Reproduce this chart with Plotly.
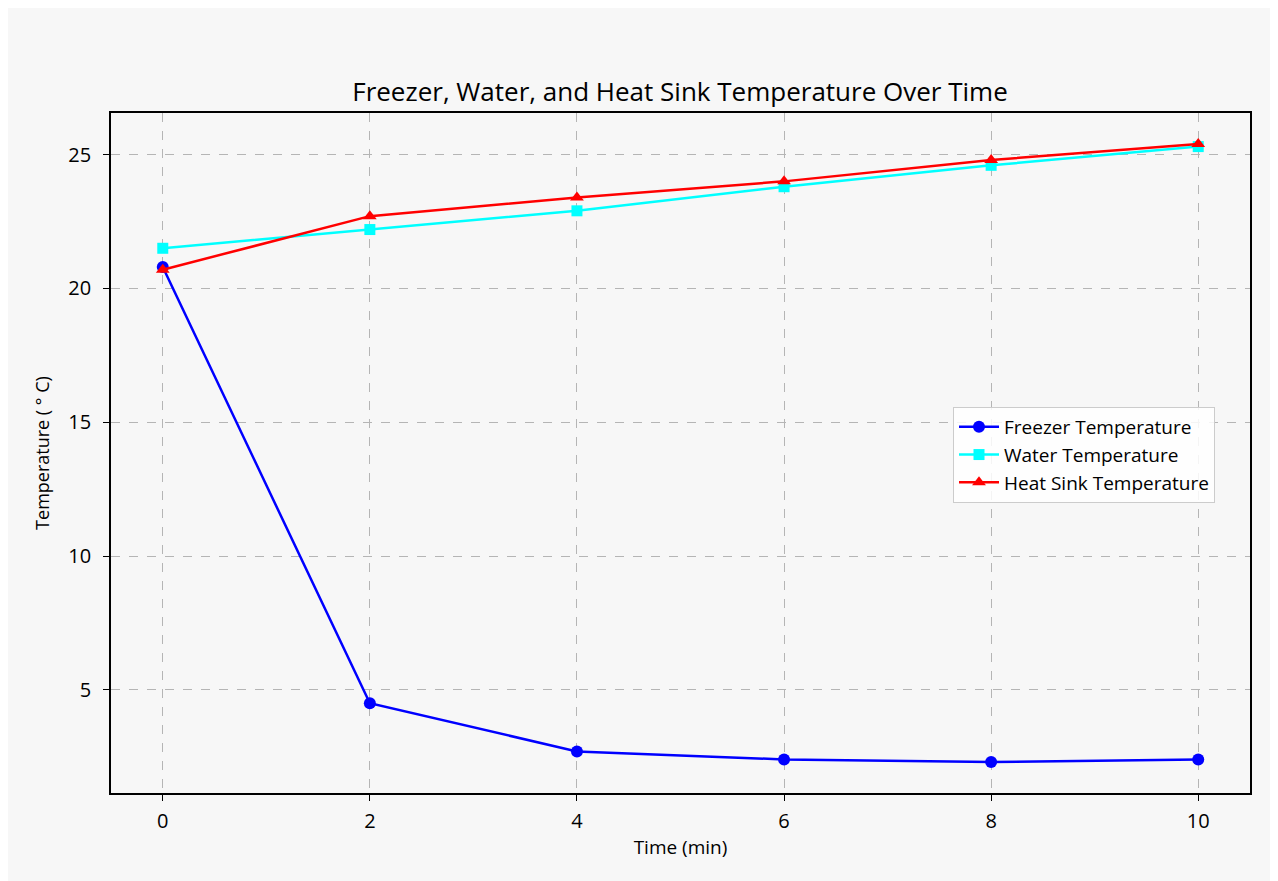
import plotly.graph_objects as go

time_min = [0, 2, 4, 6, 8, 10]
freezer_temp = [20.8, 4.5, 2.7, 2.4, 2.3, 2.4]
water_temp = [21.5, 22.2, 22.9, 23.8, 24.6, 25.3]
heatsink_temp = [20.7, 22.7, 23.4, 24.0, 24.8, 25.4]
x_ticks = [0, 2, 4, 6, 8, 10]
y_ticks = [5, 10, 15, 20, 25]

FONT = "Open Sans"
OFF = 8  # page body margin
W, H = 1265, 873
ML, MR, MT, MB = 103, 23, 105, 88
PW, PH = W - ML - MR, H - MT - MB

fig = go.Figure()
fig.add_trace(go.Scatter(x=time_min, y=freezer_temp, mode="lines+markers",
                         name="Freezer Temperature",
                         line=dict(color="#0000ff", width=2.5),
                         marker=dict(symbol="circle", size=12, color="#0000ff")))
fig.add_trace(go.Scatter(x=time_min, y=water_temp, mode="lines+markers",
                         name="Water Temperature",
                         line=dict(color="#00ffff", width=2.5),
                         marker=dict(symbol="square", size=11, color="#00ffff")))
fig.add_trace(go.Scatter(x=time_min, y=heatsink_temp, mode="lines+markers",
                         name="Heat Sink Temperature",
                         line=dict(color="#ff0000", width=2.5),
                         marker=dict(symbol="triangle-up", size=12, color="#ff0000")))

def px_to_paper_x(px):
    return (px - OFF - ML) / PW

def px_to_paper_y(py):
    return (H - MB - (py - OFF)) / PH

axis_common = dict(showline=True, linecolor="black", linewidth=1.6, mirror=True,
                   ticks="outside", ticklen=6, tickwidth=1.3, tickcolor="black",
                   showgrid=True, gridcolor="#b5b5b5", griddash="dash", gridwidth=1,
                   zeroline=False, tickfont=dict(family=FONT, size=20, color="black"))

fig.update_layout(
    width=W, height=H,
    margin=dict(l=ML, r=MR, t=MT, b=MB),
    paper_bgcolor="#f7f7f7", plot_bgcolor="#f7f7f7",
    font=dict(family=FONT, color="black"),
    title=dict(text="Freezer, Water, and Heat Sink Temperature Over Time",
               x=(680 - OFF) / W, xanchor="center", y=1 - (92 - OFF) / H, yanchor="middle",
               font=dict(family=FONT, size=26, color="black")),
    xaxis=dict(range=[-0.5, 10.5], tickvals=x_ticks, ticklabelstandoff=3,
               title=dict(text="Time (min)", font=dict(family=FONT, size=19), standoff=8),
               **axis_common),
    yaxis=dict(range=[1.145, 26.555], tickvals=y_ticks, ticklabelstandoff=8,
               title=dict(text="Temperature ( ° C)", font=dict(family=FONT, size=18), standoff=14),
               **axis_common),
    legend=dict(x=px_to_paper_x(953), y=px_to_paper_y(407), xanchor="left", yanchor="top",
                bgcolor="rgba(255,255,255,0.85)", bordercolor="#cccccc", borderwidth=1,
                font=dict(family=FONT, size=19, color="black"), itemwidth=40),
    showlegend=True,
)

fig.write_html("out.html")
